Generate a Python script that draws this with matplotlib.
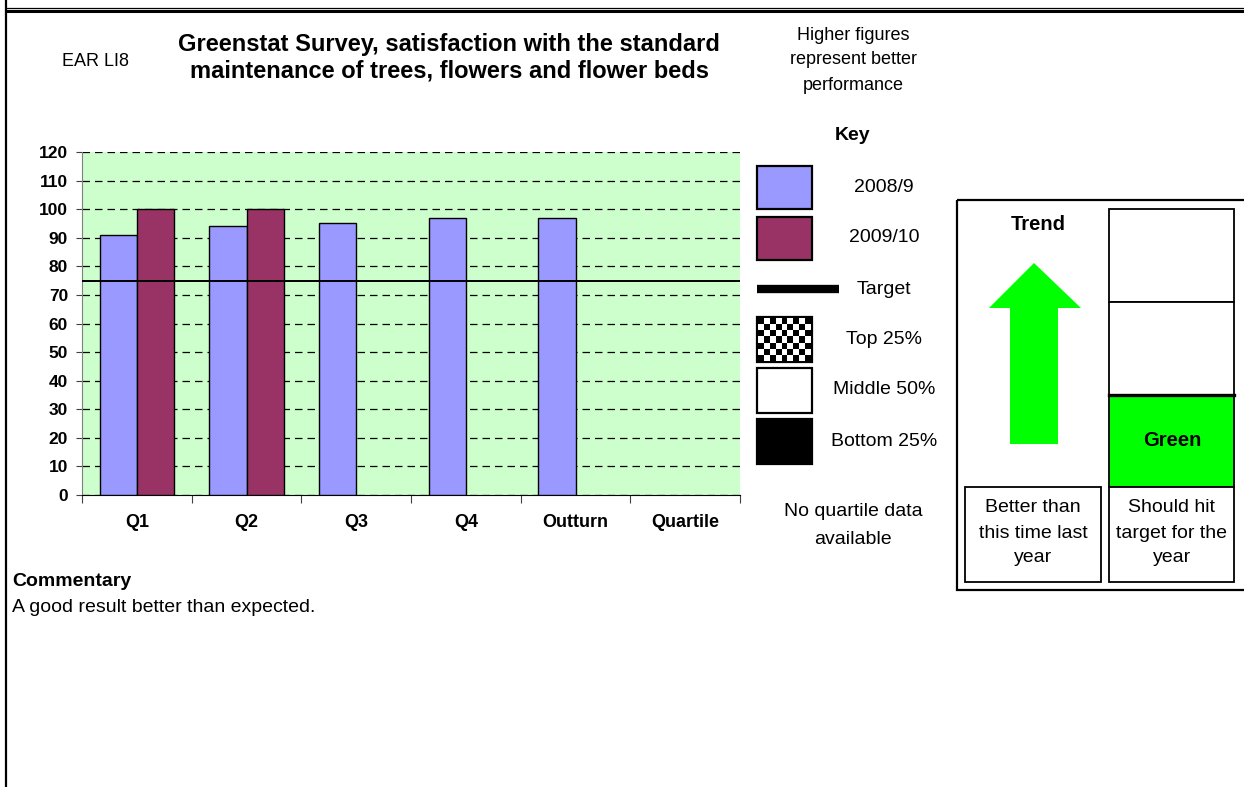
import matplotlib.pyplot as plt
from matplotlib.patches import Rectangle, Polygon
import numpy as np

plt.rcParams['font.family'] = ['Liberation Sans', 'DejaVu Sans']

# data
categories = ['Q1', 'Q2', 'Q3', 'Q4', 'Outturn', 'Quartile']
values_2008 = [91, 94, 95, 97, 97, np.nan]
values_2009 = [100, 100, np.nan, np.nan, np.nan, np.nan]
target = 75
y_ticks = list(range(0, 121, 10))

key_labels = ['2008/9', '2009/10', 'Target', 'Top 25%', 'Middle 50%', 'Bottom 25%']
col_2008 = '#9999FF'
col_2009 = '#993366'
green = '#00FF00'

W, H = 1244, 787
fig = plt.figure(figsize=(W / 100, H / 100), dpi=100)


def px(x0, y0, x1, y1):
    # pixel box (top-left origin) -> figure fraction rect
    return [x0 / W, 1 - y1 / H, (x1 - x0) / W, (y1 - y0) / H]


# ---- bar chart ----
ax = fig.add_axes(px(82, 152, 740, 495))
x = np.arange(len(categories))
bw = 0.34
ax.bar(x - bw / 2, values_2008, bw, color=col_2008, edgecolor='black', linewidth=1, zorder=3)
ax.bar(x + bw / 2, values_2009, bw, color=col_2009, edgecolor='black', linewidth=1, zorder=3)
ax.axhline(target, color='black', linewidth=1.4, zorder=4)

ax.set_facecolor('#CCFFCC')
ax.set_xlim(-0.5, len(categories) - 0.5)
ax.set_ylim(0, 120)
ax.set_yticks(y_ticks)
ax.set_axisbelow(True)
ax.yaxis.grid(True, color='black', linestyle=(0, (6, 4)), linewidth=0.9)

ax.set_xticks(np.arange(-0.5, len(categories), 1))
ax.set_xticklabels([])
ax.set_xticks(x, minor=True)
ax.set_xticklabels(categories, minor=True, fontweight='bold', fontsize=13)
ax.tick_params(axis='x', which='major', length=6, color='#404040')
ax.tick_params(axis='x', which='minor', length=0, pad=14)
ax.tick_params(axis='y', length=4, pad=6, color='#404040', labelsize=12.5)
for lab in ax.get_yticklabels():
    lab.set_fontweight('bold')

for s in ['top', 'right']:
    ax.spines[s].set_visible(False)
ax.spines['left'].set_color('#808080')
ax.spines['bottom'].set_color('black')

# ---- decorations in pixel space ----
d = fig.add_axes([0, 0, 1, 1])
d.patch.set_visible(False)
d.axis('off')

# page border
d.plot([6, 6], [0, H], color='black', lw=1.6)
d.plot([6, W], [7.5, 7.5], color='black', lw=0.9)
d.plot([6, W], [11, 11], color='black', lw=2.2)

d.text(62, 62, 'EAR LI8', fontsize=13, ha='left', va='center')
d.text(449, 44, 'Greenstat Survey, satisfaction with the standard',
       fontsize=17, fontweight='bold', ha='center', va='center')
d.text(449, 71, 'maintenance of trees, flowers and flower beds',
       fontsize=17, fontweight='bold', ha='center', va='center')
for yy, t in zip([36, 60, 85], ['Higher figures', 'represent better', 'performance']):
    d.text(853, yy, t, fontsize=13, ha='center', va='center')
d.text(853, 135, 'Key', fontsize=14, fontweight='bold', ha='center', va='center')

# key
box_rows = [(166, 209), (217, 260), None, (317, 362), (368, 413), (419, 464)]
box_fill = [col_2008, col_2009, None, 'white', 'white', 'black']
label_y = [187, 238, 289, 339, 390, 441]
for rows, fc in zip(box_rows, box_fill):
    if rows is None:
        continue
    y0, y1 = rows
    d.add_patch(Rectangle((757, y0), 55, y1 - y0, facecolor=fc,
                          edgecolor='black', lw=1.6, zorder=2))
d.plot([757, 839], [289, 289], color='black', lw=6, solid_capstyle='butt')
checker = np.indices((7, 9)).sum(axis=0) % 2
d.imshow(checker, cmap='gray', extent=(758, 811, 361, 318), origin='upper',
         interpolation='nearest', aspect='auto', zorder=3)
for yy, t in zip(label_y, key_labels):
    d.text(884, yy, t, fontsize=14, ha='center', va='center')

d.text(853, 512, 'No quartile data', fontsize=14, ha='center', va='center')
d.text(853, 540, 'available', fontsize=14, ha='center', va='center')

# trend panel
d.add_patch(Rectangle((957, 200), 300, 390, facecolor='none', edgecolor='black', lw=1.6))
d.text(1038, 224, 'Trend', fontsize=14.5, fontweight='bold', ha='center', va='center')
d.add_patch(Polygon([(1034, 263), (1081, 308), (1058, 308), (1058, 444),
                     (1010, 444), (1010, 308), (989, 308)],
                    closed=True, facecolor=green, edgecolor='none'))

d.add_patch(Rectangle((1109, 209), 125, 93, facecolor='white', edgecolor='black', lw=1.3))
d.add_patch(Rectangle((1109, 302), 125, 93, facecolor='white', edgecolor='black', lw=1.3))
d.add_patch(Rectangle((1109, 395), 125, 92, facecolor=green, edgecolor='black', lw=1.3))
d.plot([1109, 1234], [395, 395], color='black', lw=2.4)
d.text(1172, 441, 'Green', fontsize=14.5, fontweight='bold', ha='center', va='center')

d.add_patch(Rectangle((965, 487), 136, 95, facecolor='white', edgecolor='black', lw=1.3))
d.add_patch(Rectangle((1109, 487), 125, 95, facecolor='white', edgecolor='black', lw=1.3))
for yy, a, b in zip([508, 533, 558],
                    ['Better than', 'this time last', 'year'],
                    ['Should hit', 'target for the', 'year']):
    d.text(1033, yy, a, fontsize=14, ha='center', va='center')
    d.text(1172, yy, b, fontsize=14, ha='center', va='center')

# commentary
d.text(12, 581, 'Commentary', fontsize=14, fontweight='bold', ha='left', va='center')
d.text(12, 607, 'A good result better than expected.', fontsize=14, ha='left', va='center')

d.set_xlim(0, W)
d.set_ylim(H, 0)

fig.savefig('out.png', dpi=100)
